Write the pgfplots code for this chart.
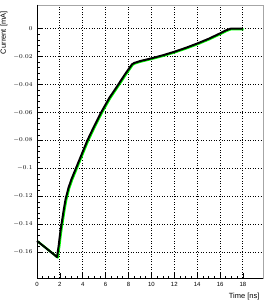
\documentclass[border=0pt]{standalone}
\usepackage{pgfplots}
\pgfplotsset{compat=1.18}
\usepackage{fontspec}
\setmainfont{Liberation Sans}
\begin{document}
\begin{tikzpicture}
\begin{axis}[
  name=ax,
  scale only axis,
  width=226pt, height=273pt,
  xmin=0, xmax=19.75,
  ymin=-0.1785, ymax=0.017,
  axis line style={gray!70, line width=0.8pt},
  xtick={0,2,...,18},
  ytick={-0.16,-0.14,-0.12,-0.1,-0.08,-0.06,-0.04,-0.02,0},
  yticklabels={$-0.16$,$-0.14$,$-0.12$,$-0.1$,$-0.08$,$-0.06$,$-0.04$,$-0.02$,$0$},
  minor x tick num=3,
  minor y tick num=4,
  tick align=inside,
  xtick pos=bottom, ytick pos=left,
  major tick length=5pt, minor tick length=2.5pt,
  tick style={black, line width=0.7pt},
  grid=major,
  major grid style={black, line width=1pt, dash pattern=on 1pt off 1.6pt},
  /pgf/number format/assume math mode=true,
  ticklabel style={font=\fontsize{6}{7}\selectfont},
  xticklabel style={yshift=-1pt},
  yticklabel style={xshift=-1pt},
  xlabel={Time [ns]},
  ylabel={Current [mA]},
  label style={font=\fontsize{7.5}{8.5}\selectfont},
  xlabel style={at={(rel axis cs:1,0)}, anchor=north east, yshift=-12pt},
  ylabel style={at={(rel axis cs:0,1)}, anchor=south east, rotate=0, yshift=26pt, xshift=-3pt},
  clip=false,
]
\addplot[green, line width=2.2pt, xshift=0.7pt, yshift=-0.5pt, line join=round] coordinates {
(0,-0.152) (0.5,-0.1552) (1.0,-0.1585) (1.5,-0.1618) (1.75,-0.1635) (1.9,-0.155) (2.0,-0.148) (2.1,-0.142) (2.2,-0.137) (2.35,-0.129) (2.5,-0.122) (2.75,-0.114) (3.0,-0.108) (3.4,-0.100) (3.9,-0.090) (4.4,-0.080) (5.0,-0.0697) (5.6,-0.060) (6.3,-0.0498) (7.1,-0.040) (7.7,-0.0325) (8.3,-0.0255) (8.5,-0.0245) (9,-0.0232) (10,-0.0212) (11,-0.019) (12,-0.0165) (13,-0.0137) (14,-0.0106) (15,-0.0072) (16,-0.0033) (16.5,-0.0012) (16.9,0) (18,0)
};
\addplot[black, line width=2pt, line join=round] coordinates {
(0,-0.152) (0.5,-0.1552) (1.0,-0.1585) (1.5,-0.1618) (1.75,-0.1635) (1.9,-0.155) (2.0,-0.148) (2.1,-0.142) (2.2,-0.137) (2.35,-0.129) (2.5,-0.122) (2.75,-0.114) (3.0,-0.108) (3.4,-0.100) (3.9,-0.090) (4.4,-0.080) (5.0,-0.0697) (5.6,-0.060) (6.3,-0.0498) (7.1,-0.040) (7.7,-0.0325) (8.3,-0.0255) (8.5,-0.0245) (9,-0.0232) (10,-0.0212) (11,-0.019) (12,-0.0165) (13,-0.0137) (14,-0.0106) (15,-0.0072) (16,-0.0033) (16.5,-0.0012) (16.9,0) (18,0)
};
\end{axis}
\draw[black, line width=1pt] (ax.north west) -- (ax.south west) -- (ax.south east);
\pgfresetboundingbox
\path ([xshift=-37pt,yshift=-24pt]ax.south west) rectangle ([xshift=1pt,yshift=5pt]ax.north east);
\end{tikzpicture}
\end{document}
